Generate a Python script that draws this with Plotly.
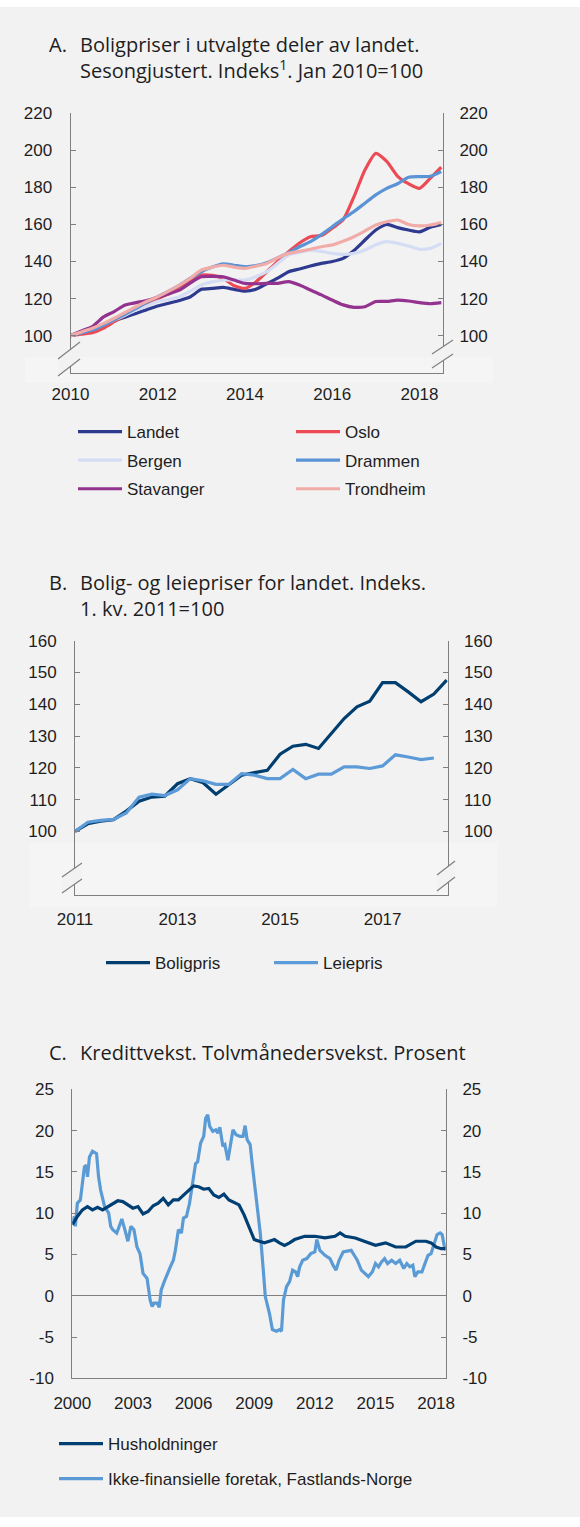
import plotly.graph_objects as go

# figure size equals the browser window; the body margin is cleared after load
OX, OY = 0, 0
W, H = 580, 1527
BG = "#f2f2f2"
AX = "#7f7f7f"
TXT = "#1e1e1e"
TICKFONT = dict(family="Liberation Sans, Arial", size=17, color=TXT)
TITLEFONT = dict(family="Open Sans, Noto Sans", size=20, color=TXT)

# --- Panel A: house prices, index Jan 2010 = 100 (quarterly readings)
a_x = [2010.0, 2010.25, 2010.5, 2010.75, 2011.0, 2011.25, 2011.5, 2011.75,
       2012.0, 2012.25, 2012.5, 2012.75, 2013.0, 2013.25, 2013.5, 2013.75,
       2014.0, 2014.25, 2014.5, 2014.75, 2015.0, 2015.25, 2015.5, 2015.75,
       2016.0, 2016.25, 2016.5, 2016.75, 2017.0, 2017.25, 2017.5, 2017.75,
       2018.0, 2018.25, 2018.5]
landet = [100, 101.5, 103, 105.5, 108, 110, 112, 114, 116, 117.5, 119, 121,
          125, 125.5, 126, 125, 124, 125, 128, 131, 134.5, 136, 137.6, 139,
          140, 141.7, 146, 151.6, 157, 160, 158.3, 157, 156, 158.5, 160]
oslo = [100, 100.8, 101.6, 104, 107.5, 111, 114.8, 117.5, 120, 122.5, 126.4,
        129.5, 132.7, 132.5, 131, 127, 125.5, 129, 134.5, 140, 145.3, 150,
        153.4, 154, 158, 162.5, 175, 189.4, 198.4, 194, 186, 182, 179.5, 185, 191]
bergen = [100, 102, 104, 106, 108.5, 111, 113.8, 116, 118.4, 119.5, 121, 124,
          127.3, 129, 130, 130, 130, 131.8, 134.5, 139, 143.5, 145, 146.2,
          145.5, 144.4, 143.9, 144.4, 146.2, 149, 150.7, 149.8, 148.4, 146.6,
          147.1, 149.8]
drammen = [100, 101.5, 103, 105.5, 108.5, 111.5, 114.7, 118, 121, 124, 127.3,
           131, 134.5, 137, 138.7, 138, 137.2, 137.8, 139.4, 142, 144.8, 148,
           150.7, 154.5, 158.8, 163, 167, 171.5, 176, 179.5, 182, 185.5, 185.8,
           186, 188.5]
stavanger = [100, 102.5, 104.9, 110, 113, 116.5, 117.8, 119, 120.7, 122.5,
             124.6, 128.5, 131.8, 132, 131.8, 130, 128.2, 128, 128.2, 128.2,
             129.1, 127.3, 124.6, 122, 119.2, 116.6, 115.3, 115.6, 118.4, 118.5,
             119.2, 118.7, 117.8, 117.2, 117.8]
trondheim = [100, 102, 104, 106.5, 109.4, 112.5, 115.6, 118.5, 121, 124, 127.3,
             131, 135.4, 137, 138, 137, 136.3, 137.5, 139, 142, 144.4, 145.5,
             146.6, 148, 149, 151, 153.4, 156.5, 159.7, 161.5, 162.4, 160, 159.2,
             159.7, 161]
a_names = ["Landet", "Oslo", "Bergen", "Drammen", "Stavanger", "Trondheim"]
a_colors = ["#2e3a8f", "#ec4a54", "#d4ddf4", "#5a93d6", "#93338f", "#f2aca8"]
a_ticks = [2010, 2012, 2014, 2016, 2018]
a_yticks = [100, 120, 140, 160, 180, 200, 220]

# --- Panel B: house and rental prices, 1st quarter 2011 = 100
b_x = [2011 + q / 4 for q in range(30)]
boligpris = [100, 102.4, 103.2, 103.7, 106.4, 109.5, 110.8, 111.1, 115, 116.6,
             115.3, 111.7, 114.7, 117.7, 118.5, 119.2, 124.3, 126.8, 127.4, 126.1,
             130.8, 135.5, 139.2, 141, 146.8, 146.8, 143.9, 140.8, 143.2, 147.6]
leiepris = [100, 102.9, 103.5, 103.8, 105.8, 110.8, 111.7, 111.3, 113.1, 116.6,
            115.9, 114.8, 114.8, 118.2, 117.7, 116.6, 116.6, 119.5, 116.6, 118,
            118, 120.3, 120.3, 119.8, 120.6, 124.1, 123.4, 122.6, 123.1]
b_ticks = [2011, 2013, 2015, 2017]
b_yticks = [100, 110, 120, 130, 140, 150, 160]

# --- Panel C: credit growth, twelve-month growth, percent
hush_x = [2000.0, 2000.25, 2000.5, 2000.75, 2001.0, 2001.25, 2001.5, 2002.0,
          2002.25, 2002.5, 2002.75, 2003.0, 2003.25, 2003.5, 2003.75, 2004.0,
          2004.25, 2004.5, 2004.75, 2005.0, 2005.25, 2005.5, 2005.75, 2006.0,
          2006.25, 2006.5, 2006.75, 2007.0, 2007.25, 2007.5, 2007.75, 2008.0,
          2008.25, 2008.5, 2008.75, 2009.0, 2009.25, 2009.5, 2009.75, 2010.0,
          2010.25, 2010.5, 2010.75, 2011.0, 2011.5, 2012.0, 2012.5, 2013.0,
          2013.25, 2013.5, 2014.0, 2014.5, 2015.0, 2015.5, 2016.0, 2016.5,
          2016.75, 2017.0, 2017.5, 2017.75, 2018.0, 2018.25, 2018.45]
hush = [8.6, 9.6, 10.4, 10.8, 10.4, 10.7, 10.4, 11.2, 11.5, 11.4, 11.0, 10.6,
        10.8, 9.9, 10.2, 10.9, 11.2, 11.8, 11.0, 11.6, 11.6, 12.2, 12.8, 13.3,
        13.2, 12.9, 13.0, 12.2, 11.9, 12.3, 11.6, 11.3, 11.0, 9.8, 8.4, 6.8,
        6.6, 6.4, 6.6, 6.8, 6.4, 6.1, 6.4, 6.8, 7.2, 7.2, 7.0, 7.2, 7.6, 7.2,
        7.0, 6.6, 6.1, 6.4, 5.9, 5.9, 6.3, 6.6, 6.6, 6.4, 5.9, 5.7, 5.7]
ikke_x = [2000.0, 2000.1, 2000.15, 2000.25, 2000.4, 2000.5, 2000.6, 2000.7,
          2000.75, 2000.85, 2001.0, 2001.2, 2001.3, 2001.4, 2001.6, 2001.8,
          2001.9, 2002.0, 2002.2, 2002.35, 2002.45, 2002.6, 2002.75, 2002.9,
          2003.05, 2003.2, 2003.35, 2003.5, 2003.7, 2003.85, 2003.95, 2004.05,
          2004.2, 2004.3, 2004.4, 2004.55, 2004.7, 2004.85, 2005.0, 2005.1,
          2005.25, 2005.4, 2005.5, 2005.65, 2005.8, 2005.95, 2006.1, 2006.2,
          2006.35, 2006.5, 2006.6, 2006.7, 2006.8, 2006.95, 2007.1, 2007.2,
          2007.3, 2007.45, 2007.55, 2007.7, 2007.8, 2007.95, 2008.1, 2008.3,
          2008.45, 2008.55, 2008.65, 2008.8, 2008.9, 2009.0, 2009.15, 2009.3,
          2009.45, 2009.55, 2009.75, 2009.9, 2010.1, 2010.25, 2010.35, 2010.45,
          2010.6, 2010.75, 2010.9, 2011.05, 2011.15, 2011.25, 2011.4, 2011.6,
          2011.8, 2012.0, 2012.1, 2012.25, 2012.5, 2012.75, 2012.9, 2013.05,
          2013.2, 2013.4, 2013.6, 2013.8, 2013.95, 2014.1, 2014.3, 2014.5,
          2014.65, 2014.85, 2015.0, 2015.15, 2015.3, 2015.45, 2015.6, 2015.8,
          2016.0, 2016.2, 2016.4, 2016.55, 2016.7, 2016.85, 2016.95, 2017.1,
          2017.3, 2017.45, 2017.6, 2017.75, 2017.9, 2018.05, 2018.2, 2018.3,
          2018.4, 2018.47]
ikke = [8.8, 9.6, 8.4, 11.2, 11.6, 14.0, 15.6, 15.8, 14.4, 16.8, 17.5, 17.2,
        14.4, 12.8, 10.8, 10.0, 8.4, 8.0, 7.6, 8.6, 9.3, 8.0, 6.6, 8.4, 8.0,
        5.9, 5.1, 2.7, 2.1, -0.5, -1.3, -0.9, -0.9, -1.4, 0.7, 1.7, 2.7, 3.5,
        4.3, 5.5, 8.0, 7.6, 9.4, 9.6, 11.2, 13.6, 16.0, 16.2, 18.5, 19.3, 21.5,
        21.9, 20.5, 19.9, 20.1, 19.7, 20.4, 18.1, 18.3, 16.4, 18.1, 20.1, 19.5,
        19.3, 19.3, 20.6, 18.9, 18.3, 16.0, 14.0, 11.2, 7.6, 3.1, -0.1, -2.1,
        -4.1, -4.3, -4.1, -4.3, -0.5, 1.1, 1.7, 3.1, 2.9, 2.3, 3.5, 4.3, 4.5,
        5.1, 5.3, 6.8, 5.5, 4.9, 4.5, 3.7, 3.1, 4.3, 5.3, 5.4, 5.5, 4.9, 4.3,
        3.1, 2.7, 2.3, 2.9, 3.9, 3.5, 4.1, 4.5, 3.9, 4.3, 3.9, 4.3, 3.3, 3.9,
        3.5, 3.7, 2.3, 2.9, 2.9, 3.9, 4.9, 5.1, 6.4, 7.4, 7.6, 7.4, 6.1, 5.5]
c_ticks = [2000, 2003, 2006, 2009, 2012, 2015, 2018]
c_yticks = [-10, -5, 0, 5, 10, 15, 20, 25]


# positions below are given in page pixels, converted to paper fractions here
def px_x(x):
    return (x - OX) / W


def px_y(y):
    return 1 - (y - OY) / H


fig = go.Figure()

# panel A traces
for name, vals, col, leg in zip(a_names, [landet, oslo, bergen, drammen, stavanger, trondheim],
                                a_colors, ["legend", "legend2"] * 3):
    fig.add_trace(go.Scatter(x=a_x, y=vals, name=name, mode="lines",
                             line=dict(color=col, width=3.2, shape="spline", smoothing=0.6),
                             xaxis="x", yaxis="y", legend=leg, legendgroup=name))
fig.add_trace(go.Scatter(x=[None], y=[None], xaxis="x", yaxis="y2", showlegend=False))

# panel B traces
fig.add_trace(go.Scatter(x=b_x, y=boligpris, name="Boligpris", mode="lines",
                         line=dict(color="#003e6f", width=3.2),
                         xaxis="x2", yaxis="y3", legend="legend3"))
fig.add_trace(go.Scatter(x=b_x[:len(leiepris)], y=leiepris, name="Leiepris", mode="lines",
                         line=dict(color="#5c9ad8", width=3.2),
                         xaxis="x2", yaxis="y3", legend="legend4"))
fig.add_trace(go.Scatter(x=[None], y=[None], xaxis="x2", yaxis="y4", showlegend=False))

# panel C traces
fig.add_trace(go.Scatter(x=ikke_x, y=ikke, name="Ikke-finansielle foretak, Fastlands-Norge",
                         mode="lines", line=dict(color="#5b9bd5", width=3.2),
                         xaxis="x3", yaxis="y5", legend="legend5", legendgroup="ikke",
                         legendrank=2))
fig.add_trace(go.Scatter(x=hush_x, y=hush, name="Husholdninger", mode="lines",
                         line=dict(color="#003f74", width=3.2),
                         xaxis="x3", yaxis="y5", legend="legend5", legendgroup="hush",
                         legendrank=1))
fig.add_trace(go.Scatter(x=[None], y=[None], xaxis="x3", yaxis="y6", showlegend=False))


def xaxis(dom, rng, ticks, anchor, standoff):
    return dict(domain=[px_x(dom[0]), px_x(dom[1])], range=rng, anchor=anchor,
                tickvals=ticks, ticktext=[str(t) for t in ticks], ticks="",
                showline=True, linecolor=AX, linewidth=1, showgrid=False,
                zeroline=False, tickfont=TICKFONT, ticklabelstandoff=standoff,
                automargin=False, fixedrange=True)


def yaxis(dom, rng, ticks, anchor, side, overlay=None, zero=False):
    d = dict(domain=[px_y(dom[1]), px_y(dom[0])], range=rng, anchor=anchor, side=side,
             tickvals=ticks, ticktext=[str(t) for t in ticks], ticks="inside",
             ticklen=5, tickcolor=AX, showline=True, linecolor=AX, linewidth=1,
             showgrid=False, zeroline=zero, zerolinecolor=AX, zerolinewidth=1,
             tickfont=TICKFONT, ticklabelstandoff=14 if side == "left" else 12,
             automargin=False, fixedrange=True)
    if overlay:
        d["overlaying"] = overlay
    return d


legend_base = dict(bgcolor="rgba(0,0,0,0)", font=TICKFONT, xanchor="left", yanchor="top",
                   itemwidth=44, tracegroupgap=3.5, orientation="v")

fig.update_layout(
    template="none",
    width=W, height=H, autosize=False,
    margin=dict(l=0, r=0, t=0, b=0, pad=0),
    paper_bgcolor="white", plot_bgcolor=BG,
    xaxis=xaxis((70.5, 443), [2010, 2018.54], a_ticks, "y", 6),
    yaxis=yaxis((113.3, 372.7), [80, 220], a_yticks, "x", "left"),
    yaxis2=yaxis((113.3, 372.7), [80, 220], a_yticks, "x", "right", "y"),
    xaxis2=xaxis((75, 447.7), [2011, 2018.27], b_ticks, "y3", 9),
    yaxis3=yaxis((640.7, 895), [80, 160], b_yticks, "x2", "left"),
    yaxis4=yaxis((640.7, 895), [80, 160], b_yticks, "x2", "right", "y3"),
    xaxis3=xaxis((72.3, 446), [2000, 2018.49], c_ticks, "y5", 9),
    yaxis5=yaxis((1089.3, 1378.3), [-10, 25], c_yticks, "x3", "left", zero=True),
    yaxis6=yaxis((1089.3, 1378.3), [-10, 25], c_yticks, "x3", "right", "y5"),
    legend=dict(legend_base, x=px_x(73), y=px_y(414)),
    legend2=dict(legend_base, x=px_x(291), y=px_y(414)),
    legend3=dict(legend_base, x=px_x(101), y=px_y(945)),
    legend4=dict(legend_base, x=px_x(269), y=px_y(945)),
    legend5=dict(legend_base, x=px_x(54), y=px_y(1426), tracegroupgap=10),
)

# background panel and break bands
shapes = [
    dict(type="rect", xref="paper", yref="paper", x0=0, x1=1, y0=px_y(1517), y1=px_y(7),
         fillcolor=BG, line_width=0, layer="below"),
    dict(type="rect", xref="paper", yref="paper", x0=px_x(25), x1=px_x(493),
         y0=px_y(383), y1=px_y(357), fillcolor="#f5f5f5", line_width=0, layer="below"),
    dict(type="rect", xref="paper", yref="paper", x0=px_x(30), x1=px_x(497),
         y0=px_y(907), y1=px_y(843), fillcolor="#f5f5f5", line_width=0, layer="below"),
]


def axis_break(x0, y0, dx, dy, gap):
    # two parallel slashes with the axis hidden between them
    out = [dict(type="path", xref="paper", yref="paper",
                path="M {} {} L {} {} L {} {} L {} {} Z".format(
                    px_x(x0), px_y(y0), px_x(x0 + dx), px_y(y0 - dy),
                    px_x(x0 + dx), px_y(y0 - dy + gap), px_x(x0), px_y(y0 + gap)),
                fillcolor=BG, line_width=0, layer="above")]
    for g in (0, gap):
        out.append(dict(type="line", xref="paper", yref="paper",
                        x0=px_x(x0), y0=px_y(y0 + g), x1=px_x(x0 + dx), y1=px_y(y0 - dy + g),
                        line=dict(color=AX, width=1.2), layer="above"))
    return out


shapes += axis_break(58, 359, 22, 17, 17)
shapes += axis_break(432, 354, 21, 14, 14)
shapes += axis_break(62, 877, 20, 14, 16)
shapes += axis_break(437, 875, 18, 14, 16)
fig.update_layout(shapes=shapes)

# panel titles
titles = [
    (42.5, "A.", "Boligpriser i utvalgte deler av landet.<br>Sesongjustert. Indeks<sup>1</sup>. Jan 2010=100"),
    (580, "B.", "Bolig- og leiepriser for landet. Indeks.<br>1. kv. 2011=100"),
    (1050, "C.", "Kredittvekst. Tolvmånedersvekst. Prosent"),
]
for y, letter, text in titles:
    fig.add_annotation(x=px_x(47), y=px_y(y - 13), xref="paper", yref="paper",
                       text=letter, showarrow=False, xanchor="left", yanchor="top",
                       font=TITLEFONT)
    fig.add_annotation(x=px_x(78), y=px_y(y - 13), xref="paper", yref="paper",
                       text=text, showarrow=False, xanchor="left", yanchor="top",
                       align="left", font=TITLEFONT)

fig.write_html("out.html", config=dict(displayModeBar=False, staticPlot=True),
               post_script="document.body.style.margin='0';document.body.style.overflow='hidden';")
